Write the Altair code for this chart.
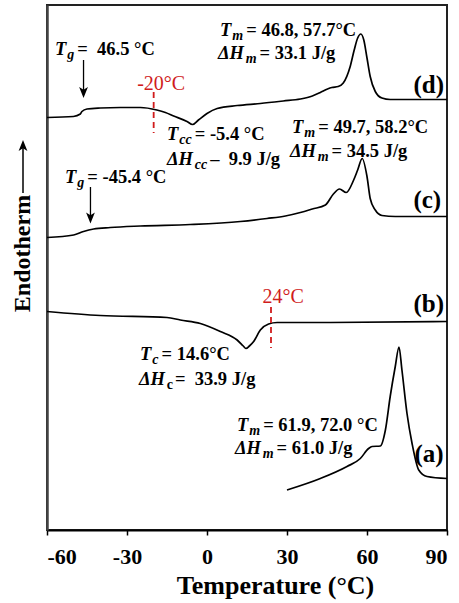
import altair as alt
import pandas as pd

FONT = "Liberation Serif"
RED = "#d01c1c"
NBSP = "\u00a0"

# ---- DSC heating traces: temperature (°C) vs. heat flow (curves offset, arbitrary units) ----
temp_a = [30.0, 42.5, 52.5, 57.5, 60.6, 61.9, 65.0, 66.9, 68.7, 70.6, 72.0, 73.1, 75.0,
          76.9, 79.4, 82.5, 90.0]
flow_a = [8.0, 10.3, 12.7, 14.3, 16.3, 16.7, 16.8, 20.0, 26.7, 32.7, 36.6, 32.0, 23.3,
          17.3, 12.0, 10.7, 10.3]

temp_b = [-60.0, -40.0, -15.0, -10.0, -2.5, 5.0, 11.3, 13.6, 14.6, 15.9, 17.5, 20.0,
          23.1, 26.3, 46.3, 90.0]
flow_b = [43.7, 42.9, 42.5, 42.0, 41.3, 39.7, 38.0, 36.8, 36.3, 36.8, 37.7, 40.0,
          41.2, 41.5, 41.5, 41.7]

temp_c = [-60.0, -50.0, -46.3, -42.5, -36.3, -25.0, -6.3, 12.5, 22.5, 29.4, 35.0, 39.5,
          44.4, 47.4, 49.7, 52.2, 55.0, 56.5, 58.2, 60.0, 61.2, 63.1, 65.6, 70.6, 90.0]
flow_c = [58.5, 59.0, 59.7, 60.2, 60.5, 60.8, 61.1, 61.7, 62.3, 62.8, 63.5, 64.2,
          65.0, 67.2, 68.2, 67.5, 70.0, 72.0, 74.3, 70.7, 66.3, 64.0, 62.9, 62.7, 62.7]

temp_d = [-60.0, -50.1, -47.5, -46.9, -45.0, -40.0, -32.5, -25.0, -18.8, -15.6, -12.5,
          -7.5, -5.4, -3.2, 0.0, 3.8, 11.3, 20.0, 28.6, 35.0, 39.5, 42.5, 45.2, 46.8,
          49.2, 51.1, 53.7, 55.2, 56.5, 57.7, 58.8, 60.0, 61.2, 63.1, 65.6, 68.7, 90.0]
flow_d = [82.5, 82.7, 83.2, 83.7, 84.2, 84.4, 84.5, 84.5, 84.0, 83.5, 82.8,
          81.7, 81.1, 82.0, 83.3, 84.3, 84.9, 85.3, 85.8, 86.2, 86.8, 87.5, 88.2, 88.5,
          88.7, 89.4, 92.7, 96.0, 98.4, 99.2, 98.0, 94.4, 90.7, 87.7, 86.4, 86.1, 86.1]

curve_names = ["a", "b", "c", "d"]
curve_temps = [temp_a, temp_b, temp_c, temp_d]
curve_flows = [flow_a, flow_b, flow_c, flow_d]

# reference temperatures marked with red dashed lines: (T, top, bottom)
ref_temps = [-20.0, 24.0]
ref_labels = ["-20°C", "24°C"]
ref_spans = [(87.6, 79.4), (44.6, 36.4)]

# glass-transition arrows: (T, top, tip)
tg_arrow_temps = [-46.3, -43.7]
tg_arrow_spans = [(94.0, 86.4), (68.6, 61.3)]

X_DOMAIN = [-60, 90]
Y_DOMAIN = [0, 105]
W, H = 400, 525
PX_X = W / (X_DOMAIN[1] - X_DOMAIN[0])
PX_Y = H / (Y_DOMAIN[1] - Y_DOMAIN[0])

rows = []
for name, ts, fs in zip(curve_names, curve_temps, curve_flows):
    for i, (t, f) in enumerate(zip(ts, fs)):
        rows.append({"curve": name, "idx": i, "T": t, "Q": f})
curves = pd.DataFrame(rows)

# ---- annotation text: pieces laid out left to right with approximate serif advances ----
BOLD = {" ": 250, "=": 570, ".": 250, ",": 250, "-": 333, "–": 500, "°": 400, "C": 722,
        "J": 500, "/": 278, "g": 500, "c": 444, "m": 833, "(": 333, ")": 333}
BOLD_ITALIC = {"T": 611, "H": 778, "Δ": 667, "m": 778, "g": 500, "c": 444}

MAIN_SIZE = 18.5
SUB_SIZE = 14
STYLES = {
    "main": dict(size=MAIN_SIZE, italic=True, drop=0, gap=1.0),
    "sub": dict(size=SUB_SIZE, italic=True, drop=4, gap=3.0),
    "subup": dict(size=SUB_SIZE, italic=False, drop=4, gap=2.0),
    "num": dict(size=MAIN_SIZE, italic=False, drop=0, gap=0.0),
}


def advance(text, kind):
    st = STYLES[kind]
    table = BOLD_ITALIC if st["italic"] else BOLD
    return sum(table.get(ch, 500) for ch in text) * st["size"] / 1000.0 + st["gap"]


labels = [
    ((-57.0, 95.0), [("T", "main"), ("g", "sub"), (" =  46.5 °C", "num")]),
    ((4.9, 98.8), [("T", "main"), ("m", "sub"), (" = 46.8, 57.7°C", "num")]),
    ((4.1, 94.2), [("ΔH", "main"), ("m", "sub"), ("= 33.1 J/g", "num")]),
    ((-15.0, 78.0), [("T", "main"), ("cc", "sub"), (" = -5.4 °C", "num")]),
    ((-15.0, 73.0), [("ΔH", "main"), ("cc", "sub"), (" –  9.9 J/g", "num")]),
    ((31.9, 79.4), [("T", "main"), ("m", "sub"), (" = 49.7, 58.2°C", "num")]),
    ((31.1, 74.6), [("ΔH", "main"), ("m", "sub"), (" = 34.5 J/g", "num")]),
    ((-53.25, 69.4), [("T", "main"), ("g", "sub"), (" = -45.4 °C", "num")]),
    ((-25.1, 34.0), [("T", "main"), ("c", "sub"), (" = 14.6°C", "num")]),
    ((-25.5, 29.0), [("ΔH", "main"), ("c", "subup"), ("=  33.9 J/g", "num")]),
    ((11.25, 19.8), [("T", "main"), ("m", "sub"), (" = 61.9, 72.0 °C", "num")]),
    ((10.5, 15.2), [("ΔH", "main"), ("m", "sub"), (" = 61.0 J/g", "num")]),
]

ann_rows = []
for (t0, q0), parts in labels:
    offset = 0.0
    for text, kind in parts:
        ann_rows.append({"T": t0 + offset / PX_X,
                         "Q": q0 - STYLES[kind]["drop"] / PX_Y,
                         "text": text.replace(" ", NBSP), "kind": kind})
        offset += advance(text, kind)

tag_texts = ["(d)", "(c)", "(b)", "(a)"]
tag_pos = [(77.4, 87.4), (77.4, 64.4), (77.4, 43.6), (77.8, 13.6)]
for txt, (t, q) in zip(tag_texts, tag_pos):
    ann_rows.append({"T": t, "Q": q, "text": txt, "kind": "tag"})

red_label_pos = [(-26.2, 88.0), (20.8, 45.4)]
for txt, (t, q) in zip(ref_labels, red_label_pos):
    ann_rows.append({"T": t, "Q": q, "text": txt, "kind": "red"})

ann = pd.DataFrame(ann_rows)

x_scale = alt.Scale(domain=X_DOMAIN, nice=False, zero=False)
y_scale = alt.Scale(domain=Y_DOMAIN, nice=False, zero=False)

x_enc = alt.X(
    "T:Q", scale=x_scale,
    axis=alt.Axis(
        values=[-60, -30, 0, 30, 60, 90], labelExpr="'' + datum.value",
        title="Temperature (°C)", grid=False,
        domainColor="black", domainWidth=2.2,
        tickColor="black", tickWidth=1.5, tickSize=5,
        labelFont=FONT, labelFontSize=22, labelFontWeight="bold", labelColor="black",
        labelPadding=11,
        titleFont=FONT, titleFontSize=26, titleFontWeight="bold", titleColor="black",
        titleX=228, titleY=63, titleBaseline="alphabetic", titleAlign="center",
    ),
)
y_enc = alt.Y(
    "Q:Q", scale=y_scale,
    axis=alt.Axis(
        title="Endotherm", ticks=False, labels=False, grid=False,
        domainColor="#444", domainWidth=2.5,
        titleFont=FONT, titleFontSize=24, titleFontWeight="bold", titleColor="black",
        titleAngle=270, titleX=-18, titleY=248, titleBaseline="alphabetic",
        titleAlign="center",
    ),
)

lines = alt.Chart(curves).mark_line(
    color="black", strokeWidth=1.7, interpolate="monotone"
).encode(x=x_enc, y=y_enc, detail="curve:N", order="idx:Q")


def text_layer(kind, **props):
    return alt.Chart(ann).transform_filter(alt.datum.kind == kind).mark_text(
        align="left", baseline="alphabetic", font=FONT, **props
    ).encode(x=alt.X("T:Q", scale=x_scale), y=alt.Y("Q:Q", scale=y_scale), text="text:N")


texts = [
    text_layer("main", fontSize=MAIN_SIZE, fontWeight="bold", fontStyle="italic", color="black"),
    text_layer("sub", fontSize=SUB_SIZE, fontWeight="bold", fontStyle="italic", color="black"),
    text_layer("subup", fontSize=SUB_SIZE, fontWeight="bold", color="black"),
    text_layer("num", fontSize=MAIN_SIZE, fontWeight="bold", color="black"),
    text_layer("tag", fontSize=25, fontWeight="bold", color="black"),
    text_layer("red", fontSize=20, color=RED),
]

ref_df = pd.DataFrame({"T": ref_temps,
                       "Q1": [s[0] for s in ref_spans],
                       "Q2": [s[1] for s in ref_spans]})
ref_rules = alt.Chart(ref_df).mark_rule(
    color=RED, strokeDash=[6, 4], strokeWidth=1.8
).encode(x=alt.X("T:Q", scale=x_scale), y=alt.Y("Q1:Q", scale=y_scale), y2="Q2:Q")

HEAD_PX = 11
DOWN = "M0,1L-0.8,-1L0,-0.5L0.8,-1Z"
UP = "M0,-1L-0.8,1L0,0.5L0.8,1Z"

tg_df = pd.DataFrame({
    "T": tg_arrow_temps,
    "Q1": [s[0] for s in tg_arrow_spans],
    "Q2": [s[1] + HEAD_PX / 2 / PX_Y for s in tg_arrow_spans],
    "Qh": [s[1] + HEAD_PX / 2 / PX_Y for s in tg_arrow_spans],
})
tg_shafts = alt.Chart(tg_df).mark_rule(color="black", strokeWidth=1.3).encode(
    x=alt.X("T:Q", scale=x_scale), y=alt.Y("Q1:Q", scale=y_scale), y2="Q2:Q")
tg_heads = alt.Chart(tg_df).mark_point(
    shape=DOWN, filled=True, size=HEAD_PX ** 2, color="black", opacity=1
).encode(x=alt.X("T:Q", scale=x_scale), y=alt.Y("Qh:Q", scale=y_scale))

# upward arrow beside the y-axis title
one = pd.DataFrame({"k": [0]})
title_shaft = alt.Chart(one).mark_rule(color="black", strokeWidth=1.5).encode(
    x=alt.value(-24), y=alt.value(188), y2=alt.value(141))
title_head = alt.Chart(one).mark_point(
    shape=UP, filled=True, size=HEAD_PX ** 2, color="black", opacity=1
).encode(x=alt.value(-24), y=alt.value(140.5))

chart = alt.layer(
    lines, ref_rules, tg_shafts, tg_heads, title_shaft, title_head, *texts
).properties(
    width=W, height=H,
    padding={"left": 47, "top": 5, "right": 12, "bottom": 73},
    autosize=alt.AutoSizeParams(type="none"),
).configure_view(stroke="#222", strokeWidth=2)

chart.save("out.html", embed_options={"renderer": "svg", "actions": False})
